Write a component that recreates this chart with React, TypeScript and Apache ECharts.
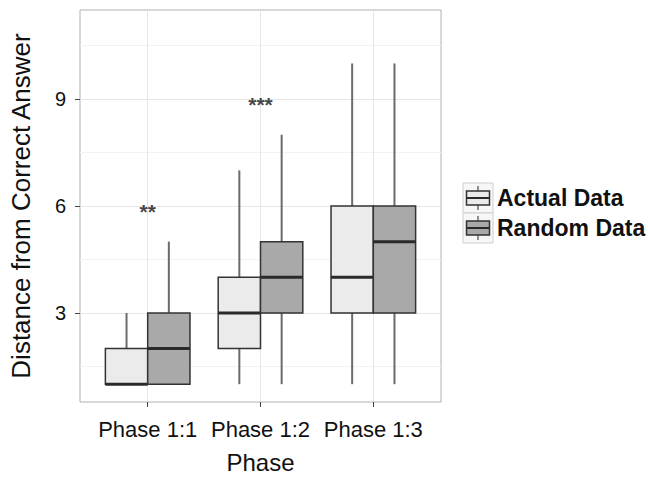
import React, { useEffect, useRef } from 'react';
import * as echarts from 'echarts';

const categories = ['Phase 1:1', 'Phase 1:2', 'Phase 1:3'];
const seriesNames = ['Actual Data', 'Random Data'];
// [min, Q1, median, Q3, max]
const actualStats = [
  [1, 1, 1, 2, 3],
  [1, 2, 3, 4, 7],
  [1, 3, 4, 6, 10],
];
const randomStats = [
  [1, 1, 2, 3, 5],
  [1, 3, 4, 5, 8],
  [1, 3, 5, 6, 10],
];
const sigLabels = ['**', '***', ''];
const sigY = [6, 9, 0];
const yTicks = [3, 6, 9];
const yMinorGrid = [1.5, 4.5, 7.5, 10.5];

const FONT = '"Liberation Sans", Arial, Helvetica, sans-serif';
const FILLS = ['#ebebeb', '#a9a9a9'];
const HALF = 0.1875;

function makeRender(offset: number, fill: string) {
  return (params: any, api: any) => {
    const xc = api.value(0) + offset;
    const yMin = api.coord([xc, api.value(1)])[1];
    const yQ1 = api.coord([xc, api.value(2)])[1];
    const yMed = api.coord([xc, api.value(3)])[1];
    const yQ3 = api.coord([xc, api.value(4)])[1];
    const yMax = api.coord([xc, api.value(5)])[1];
    const xl = api.coord([xc - HALF, 1])[0];
    const xr = api.coord([xc + HALF, 1])[0];
    const xm = api.coord([xc, 1])[0];
    const whisker = { stroke: '#6b6b6b', lineWidth: 2 };
    return {
      type: 'group',
      children: [
        { type: 'line', shape: { x1: xm, y1: yMax, x2: xm, y2: yQ3 }, style: whisker },
        { type: 'line', shape: { x1: xm, y1: yQ1, x2: xm, y2: yMin }, style: whisker },
        {
          type: 'rect',
          shape: { x: xl, y: yQ3, width: xr - xl, height: yQ1 - yQ3 },
          style: { fill, stroke: '#333333', lineWidth: 1.5 },
        },
        {
          type: 'line',
          shape: { x1: xl, y1: yMed, x2: xr, y2: yMed },
          style: { stroke: '#2a2a2a', lineWidth: 3 },
        },
      ],
    };
  };
}

function legendKey(y: number, fill: string) {
  const x = 463;
  return [
    { type: 'rect', shape: { x, y, width: 30, height: 30 }, style: { fill: '#f7f7f7', stroke: '#cfcfcf', lineWidth: 1 } },
    { type: 'line', shape: { x1: x + 15, y1: y + 3, x2: x + 15, y2: y + 27 }, style: { stroke: '#6b6b6b', lineWidth: 1.5 } },
    { type: 'rect', shape: { x: x + 3.5, y: y + 8, width: 23, height: 14 }, style: { fill, stroke: '#333', lineWidth: 1.5 } },
    { type: 'line', shape: { x1: x + 3.5, y1: y + 15, x2: x + 26.5, y2: y + 15 }, style: { stroke: '#2a2a2a', lineWidth: 2 } },
  ];
}

export default function App() {
  const ref = useRef<HTMLDivElement>(null);
  useEffect(() => {
    if (!ref.current) return;
    const chart = echarts.init(ref.current, null, { renderer: 'svg' });
    const boxData = (stats: number[][]) => stats.map((s, i) => [i + 1, ...s]);
    const option: any = {
      animation: false,
      backgroundColor: '#ffffff',
      textStyle: { fontFamily: FONT },
      grid: {
        left: 77,
        top: 10,
        width: 364,
        height: 397,
        show: true,
        backgroundColor: '#ffffff',
        borderColor: '#b0b0b0',
        borderWidth: 1,
      },
      xAxis: {
        type: 'value',
        min: 0.4,
        max: 3.6,
        name: 'Phase',
        nameLocation: 'middle',
        nameGap: 48,
        nameTextStyle: { fontSize: 24, color: '#111', fontFamily: FONT },
        axisLine: { show: false },
        splitLine: { show: false },
        axisTick: { show: true, customValues: [1, 2, 3], length: 5, lineStyle: { color: '#444' } },
        axisLabel: {
          customValues: [1, 2, 3],
          formatter: (v: number) => categories[Math.round(v) - 1] ?? '',
          fontSize: 22,
          color: '#111',
          margin: 16,
          fontFamily: FONT,
        },
      },
      yAxis: {
        type: 'value',
        min: 0.5,
        max: 11.5,
        name: 'Distance from Correct Answer',
        nameLocation: 'middle',
        nameGap: 46,
        nameTextStyle: { fontSize: 26, color: '#111', fontFamily: FONT },
        axisLine: { show: false },
        splitLine: { show: false },
        axisTick: { show: true, customValues: yTicks, length: 5, lineStyle: { color: '#444' } },
        axisLabel: { customValues: yTicks, fontSize: 20, color: '#111', margin: 14, fontFamily: FONT },
      },
      graphic: [
        ...legendKey(183, FILLS[0]),
        ...legendKey(213, FILLS[1]),
        {
          type: 'text', x: 497, y: 198,
          style: { text: seriesNames[0], fill: '#111', font: `bold 23px ${FONT}`, verticalAlign: 'middle' },
        },
        {
          type: 'text', x: 497, y: 228,
          style: { text: seriesNames[1], fill: '#111', font: `bold 23px ${FONT}`, verticalAlign: 'middle' },
        },
      ],
      series: [
        {
          type: 'line',
          data: [],
          silent: true,
          z: 0,
          markLine: {
            silent: true,
            z: 0,
            symbol: 'none',
            label: { show: false },
            data: [
              ...yMinorGrid.map((v) => ({ yAxis: v, lineStyle: { color: '#f3f3f3', width: 1, type: 'solid' } })),
              ...yTicks.map((v) => ({ yAxis: v, lineStyle: { color: '#e6e6e6', width: 1, type: 'solid' } })),
              ...categories.map((_, i) => ({ xAxis: i + 1, lineStyle: { color: '#e6e6e6', width: 1, type: 'solid' } })),
            ],
          },
        },
        {
          type: 'custom',
          name: seriesNames[0],
          z: 3,
          renderItem: makeRender(-HALF, FILLS[0]),
          encode: { x: 0, y: [1, 2, 3, 4, 5] },
          data: boxData(actualStats),
        },
        {
          type: 'custom',
          name: seriesNames[1],
          z: 3,
          renderItem: makeRender(HALF, FILLS[1]),
          encode: { x: 0, y: [1, 2, 3, 4, 5] },
          data: boxData(randomStats),
        },
        {
          type: 'scatter',
          symbolSize: 0,
          silent: true,
          z: 4,
          data: sigLabels
            .map((s, i) => (s ? { value: [i + 1, sigY[i]], label: { formatter: s } } : null))
            .filter(Boolean),
          label: {
            show: true,
            position: 'inside',
            fontSize: 21,
            fontWeight: 'bold',
            color: '#111',
            offset: [0, 5],
            fontFamily: FONT,
          },
        },
      ],
    };
    chart.setOption(option);
    return () => chart.dispose();
  }, []);
  return (
    <div
      ref={ref}
      style={{ position: 'fixed', left: 0, top: 0, width: 648, height: 479 }}
    />
  );
}
